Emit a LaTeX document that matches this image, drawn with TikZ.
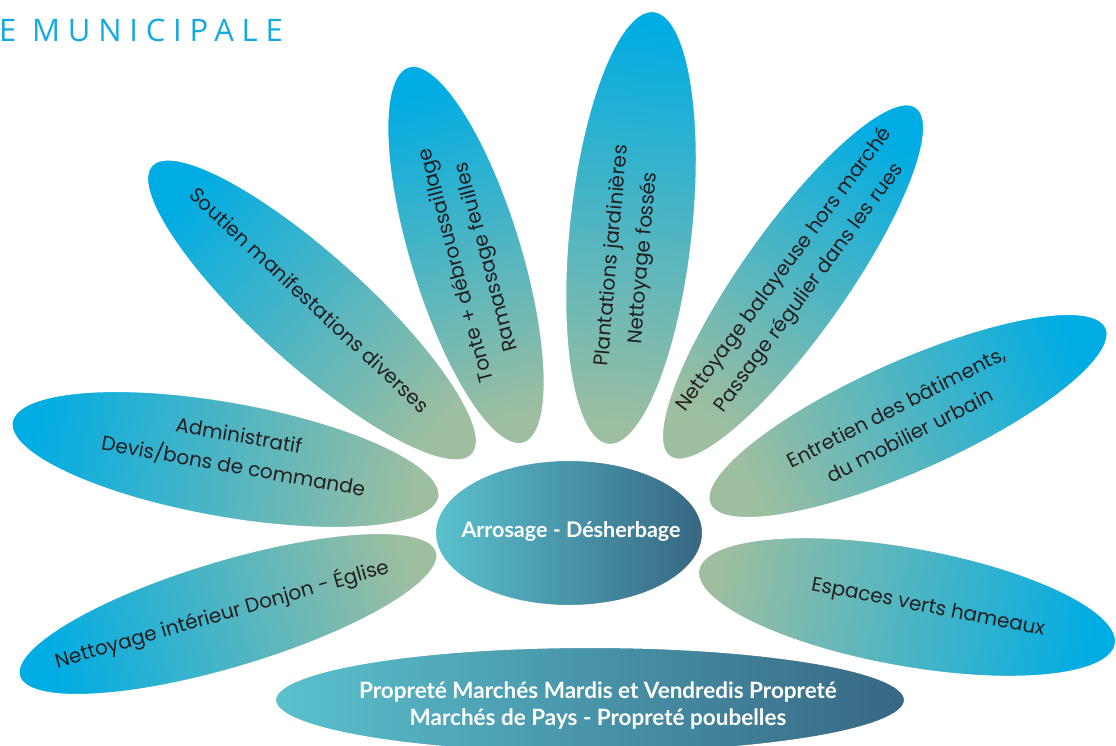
\documentclass[tikz,border=0pt]{standalone}
\usepackage{fontspec}
\setmainfont{Poppins}
\newfontfamily\boldfont{Lato}
\newfontfamily\titlefont[LetterSpace=25]{Open Sans}
\usetikzlibrary{shapes.geometric}
\definecolor{tipblue}{RGB}{0,172,228}
\definecolor{midblue}{RGB}{96,178,200}
\definecolor{sage}{RGB}{158,190,160}
\definecolor{txt}{RGB}{35,31,32}
\definecolor{cyanl}{RGB}{90,193,205}
\definecolor{darkb}{RGB}{55,103,131}
\definecolor{titleblue}{RGB}{20,170,225}
\tikzset{
  petal/.style n args={3}{ellipse, inner sep=0pt, draw=white, line width=2pt,
     minimum width=#1, minimum height=#2, rotate=#3},
  blueleft/.style={left color=tipblue, middle color=midblue, right color=sage, shading angle=#1},
  blueright/.style={left color=sage, middle color=midblue, right color=tipblue, shading angle=#1},
  ptext/.style={align=center, text=txt, inner sep=0pt, font=\fontsize{20}{31}\selectfont},
  btext/.style={align=center, text=white, inner sep=0pt, font=\boldfont\bfseries\fontsize{21.5}{27}\selectfont},
}
\begin{document}
\begin{tikzpicture}[x=1pt,y=-1pt]
\useasboundingbox (0,0) rectangle (1116,746);
% title
\node[anchor=base west, inner sep=0pt, text=titleblue, font=\titlefont\fontsize{31}{31}\selectfont] (title) at (-1,41.5) {E MUNICIPALE};
% petals
\node[petal={436}{108}{16.6}, blueleft=106.6] (p1) at (228,614) {};
\node[ptext, rotate=16] (t1) at (222,614) {Nettoyage intérieur Donjon - Église};

\node[petal={434}{116}{-10}, blueleft=80] (p2) at (225.5,459.5) {};
\node[ptext, rotate=-10] (t2) at (236,452) {Administratif\\Devis/bons de commande};

\node[petal={432}{112}{-42}, blueleft=48] (p3) at (312,310) {};
\node[ptext, rotate=-43] (t3) at (310,300) {Soutien manifestations diverses};

\node[petal={394}{112}{107}, blueright=197] (p4) at (466,255) {};
\node[ptext, rotate=105] (t4) at (472,261) {Tonte + débroussaillage\\Ramassage feuilles};

\node[petal={436}{124}{84}, blueright=174] (p5) at (631,228) {};
\node[ptext, rotate=85] (t5) at (628,257) {Plantations jardinières\\Nettoyage fossés};

\node[petal={428}{108}{54.8}, blueright=144.8] (p6) at (793,282) {};
\node[ptext, rotate=53.5] (t6) at (797,279) {Nettoyage balayeuse hors marché\\Passage régulier dans les rues};

\node[petal={434}{112}{24}, blueright=114] (p7) at (908,416) {};
\node[ptext, rotate=27] (t7) at (903,421) {Entretien des bâtiments,\\du mobilier urbain};

\node[petal={424}{120}{-10.1}, blueright=79.9] (p8) at (907,607) {};
\node[ptext, rotate=-11] (t8) at (928,608) {Espaces verts hameaux};

% center
\node[ellipse, inner sep=0pt, draw=white, line width=2pt, minimum width=268, minimum height=146,
      left color=cyanl, right color=darkb] (c) at (569,533) {};
\node[btext] (ct) at (571,531) {Arrosage - Désherbage};
% bottom
\node[ellipse, inner sep=0pt, draw=white, line width=2pt, minimum width=630, minimum height=106,
      left color=cyanl, right color=darkb] (b) at (590,700) {};
\node[btext, font=\boldfont\bfseries\fontsize{22.5}{27}\selectfont] (bt) at (598,706) {Propreté Marchés Mardis et Vendredis Propreté\\Marchés de Pays - Propreté poubelles};
\end{tikzpicture}
\end{document}
